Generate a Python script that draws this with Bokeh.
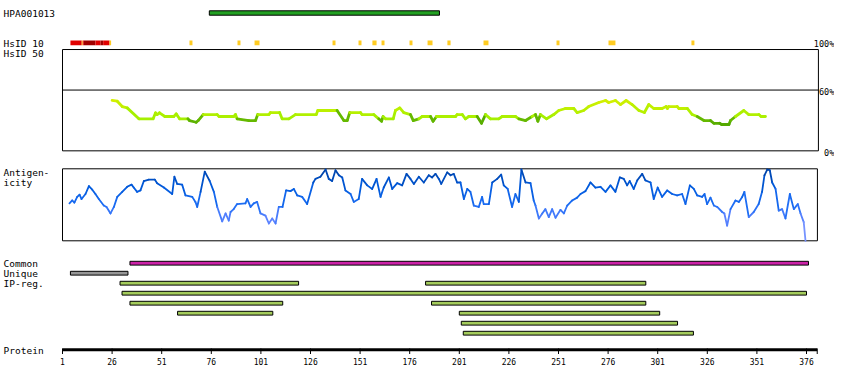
import numpy as np
from bokeh.plotting import figure
from bokeh.models import Range1d
from bokeh.core.properties import value
from bokeh.embed import file_html
from bokeh.resources import INLINE

# ---------------- data ----------------
PROTEIN_LENGTH = 381
antigen_name = "HPA001013"
antigen_start, antigen_end = 75, 191

# HsID 10 identity marks (residue start / end, colour class)
hs10_start = [5.0, 10.7, 11.2, 11.7, 17.6, 20.2, 21.5, 24.7,
              65.0, 89.2, 97.8, 137.1, 150.2, 157.2, 161.8, 175.9, 185.0,
              195.0, 213.2, 250.0, 276.2, 318.0]
hs10_end = [10.7, 11.2, 11.7, 17.6, 20.2, 21.5, 24.7, 25.5,
            66.5, 90.7, 100.3, 138.6, 151.7, 159.3, 163.3, 177.4, 187.5,
            196.6, 215.7, 251.5, 279.7, 319.5]
hs10_class = ["high", "low", "high", "top", "high", "top", "high", "low",
              "low", "low", "low", "low", "low", "low", "low", "low", "low",
              "low", "low", "low", "low", "low"]

# HsID 50 similarity (%)
sim_res = [26.0, 28.6, 31.1, 33.6, 39.5, 46.7, 47.9, 48.7, 49.9, 52.6, 57.1, 58.3,
           60.0, 64.2, 65.0, 68.4, 69.4, 71.9, 78.9, 79.9, 87.3, 88.2, 89.0, 94.9,
           98.3, 99.4, 105.0, 105.8, 110.4, 111.7, 115.1, 118.4, 128.9, 129.7, 139.4,
           142.8, 144.5, 145.8, 151.2, 152.0, 157.9, 160.4, 161.8, 162.6, 163.8, 167.7,
           168.8, 171.0, 173.0, 176.4, 177.8, 180.6, 182.3, 186.5, 187.8, 189.5, 199.1,
           199.9, 202.5, 204.1, 205.8, 210.0, 212.2, 214.2, 216.7, 220.9, 222.6, 229.3,
           231.0, 234.4, 237.7, 239.4, 240.6, 241.9, 245.0, 248.6, 251.1, 254.5, 258.7,
           260.4, 263.7, 266.2, 271.3, 274.7, 276.3, 279.7, 282.2, 285.1, 288.1, 291.5,
           294.3, 296.5, 299.0, 303.2, 305.3, 305.9, 306.6, 310.8, 311.7, 315.9, 318.4,
           320.9, 324.3, 327.6, 329.3, 332.2, 333.2, 336.9, 337.7, 340.2, 344.4, 346.9,
           352.0, 353.1, 355.3]
sim_pct = [49.7, 49.0, 43.7, 42.4, 31.6, 31.6, 37.5, 35.8, 37.5, 33.9, 33.9, 36.5,
           31.6, 31.6, 29.9, 28.2, 29.9, 35.8, 35.8, 33.9, 33.9, 35.8, 31.6, 29.9,
           29.9, 35.8, 35.8, 37.8, 37.8, 31.6, 31.6, 35.8, 35.8, 39.8, 39.8,
           29.9, 29.9, 37.8, 37.8, 35.8, 35.8, 31.6, 29.2, 33.9, 31.6, 31.6,
           39.8, 42.4, 37.8, 35.8, 29.9, 31.6, 33.9, 33.9, 29.2, 33.9, 33.9,
           35.8, 35.8, 31.6, 33.9, 33.9, 27.2, 35.8, 31.6, 31.6, 33.9, 33.9,
           31.6, 29.9, 33.9, 35.8, 29.2, 35.8, 31.6, 35.8, 39.8, 41.8, 41.8,
           37.8, 39.8, 43.7, 47.7, 49.7, 47.7, 49.7, 45.7, 49.7, 45.7, 39.8,
           37.8, 45.7, 41.8, 41.8, 43.7, 41.8, 43.7, 43.7, 41.8, 41.8, 35.8,
           33.9, 29.9, 29.9, 27.2, 27.2, 26.0, 26.0, 29.9, 33.9, 39.8, 35.8,
           35.8, 33.9, 33.9]

# Antigenicity (relative score 0..1)
ag_res = [4.5, 5.9, 7.0, 8.4, 9.6, 10.6, 12.6, 14.3, 16.0, 17.6, 19.3, 21.8, 23.2, 25.2,
          26.9, 28.6, 31.1, 33.6, 35.8, 36.9, 38.6, 40.3, 42.0, 44.5, 47.5, 48.7, 52.1,
          56.3, 57.4, 58.8, 61.3, 63.0, 66.4, 68.0, 68.9, 70.6, 72.7, 75.2, 77.3, 79.0,
          81.5, 83.2, 84.8, 85.7, 87.3, 89.0, 93.2, 94.1, 95.8, 97.4, 99.1, 100.8, 103.3,
          105.0, 106.7, 108.4, 110.0, 111.9, 113.7, 115.9, 117.6, 119.3, 121.8, 124.3,
          127.4, 128.5, 131.0, 133.6, 135.2, 136.9, 138.6, 140.3, 142.0, 143.6, 146.2,
          147.8, 150.3, 152.0, 154.6, 157.1, 159.3, 161.3, 162.9, 165.5, 167.2, 169.7,
          172.2, 174.4, 176.4, 178.1, 180.6, 183.1, 185.6, 187.3, 189.0, 190.7, 191.9,
          194.9, 196.6, 198.2, 199.9, 201.6, 203.3, 205.0, 206.6, 208.3, 210.8, 212.5,
          213.3, 215.9, 217.6, 220.1, 222.1, 223.4, 225.4, 227.6, 229.3, 231.0, 232.3,
          234.4, 236.9, 238.5, 239.4, 241.1, 242.8, 244.4, 246.1, 247.8, 249.5, 252.0,
          253.7, 255.4, 257.9, 260.4, 262.1, 264.6, 267.1, 269.6, 272.2, 274.7, 277.2,
          279.7, 281.9, 283.9, 285.6, 286.9, 288.9, 290.7, 293.2, 294.8, 297.4, 299.0,
          301.0, 303.2, 305.8, 308.3, 310.8, 313.3, 315.0, 317.2, 319.2, 320.9, 323.4,
          324.6, 325.9, 327.6, 329.3, 331.0, 333.5, 334.6, 336.0, 337.7, 340.2, 341.9,
          343.6, 344.7, 346.9, 349.4, 351.9, 353.6, 354.8, 356.2, 357.5, 358.7, 360.4,
          362.0, 363.7, 365.4, 367.6, 369.6, 371.6, 373.0, 374.6, 375.5]
ag_val = [0.52, 0.56, 0.53, 0.61, 0.64, 0.58, 0.65, 0.76, 0.71, 0.65, 0.58, 0.49, 0.47, 0.38,
          0.47, 0.61, 0.68, 0.75, 0.78, 0.74, 0.68, 0.70, 0.83, 0.85, 0.85, 0.80, 0.74,
          0.65, 0.89, 0.79, 0.78, 0.63, 0.61, 0.54, 0.47, 0.68, 0.96, 0.83, 0.68, 0.47,
          0.27, 0.38, 0.28, 0.40, 0.44, 0.51, 0.52, 0.58, 0.47, 0.52, 0.54, 0.38, 0.35,
          0.24, 0.31, 0.24, 0.47, 0.47, 0.70, 0.69, 0.72, 0.63, 0.61, 0.51,
          0.81, 0.86, 0.89, 0.99, 0.86, 0.83, 0.98, 0.91, 0.88, 0.70, 0.65,
          0.54, 0.58, 0.86, 0.77, 0.72, 0.86, 0.61, 0.74, 0.88, 0.72, 0.80,
          0.77, 0.93, 0.86, 0.79, 0.89, 0.81, 0.91, 0.88, 0.93, 0.86, 0.79,
          0.95, 0.91, 0.93, 0.81, 0.81, 0.58, 0.72, 0.68, 0.49, 0.47, 0.61,
          0.51, 0.51, 0.81, 0.86, 0.92, 0.77, 0.72, 0.47, 0.65, 0.54, 0.99,
          0.81, 0.80, 0.56, 0.49, 0.31, 0.38, 0.44, 0.33, 0.44, 0.32, 0.43,
          0.38, 0.49, 0.56, 0.60, 0.65, 0.69, 0.81, 0.74, 0.75, 0.68, 0.77,
          0.68, 0.88, 0.86, 0.77, 0.83, 0.72, 0.84, 0.93, 0.84, 0.81, 0.58,
          0.74, 0.61, 0.70, 0.65, 0.63, 0.65, 0.51, 0.77, 0.72, 0.63, 0.61,
          0.65, 0.51, 0.60, 0.49, 0.47, 0.40, 0.38, 0.21, 0.44, 0.56, 0.54,
          0.61, 0.68, 0.33, 0.40, 0.51, 0.68, 0.91, 0.99, 0.98, 0.81, 0.72,
          0.42, 0.44, 0.31, 0.65, 0.44, 0.51, 0.38, 0.26, 0.00]

# region rows
common_start, common_end = [35], [377]
unique_start, unique_end = [5], [34]
ip_row = [0, 0, 1, 2, 2, 3, 3, 4, 5]
ip_start = [30, 184, 31, 35, 187, 59, 201, 202, 203]
ip_end = [120, 295, 376, 112, 295, 107, 302, 311, 319]

tick_values = [1, 26, 51, 76, 101, 126, 151, 176, 201, 226, 251, 276, 301, 326, 351, 376]
sim_ticks = [60, 0]
sim_tick_labels = ["60%", "0%"]

row_labels = ["HPA001013", "HsID 10", "HsID 50", "Antigen-", "icity",
              "Common", "Unique", "IP-reg.", "Protein"]

# ---------------- layout / style ----------------
FONT = value("DejaVu Sans Mono")
LEFT_X = -28.7          # residue coordinate of the left text column
RIGHT_X = 390.0         # right edge of the drawing
label_y = [13.0, 42.5, 52.5, 172.3, 182.0, 263.2, 273.2, 283.2, 349.5]

p = figure(width=834, height=374,
           x_range=Range1d(-30.25, 390.11), y_range=Range1d(374, 0),
           x_axis_type=None, y_axis_type=None,
           output_backend="svg", toolbar_location=None, min_border=0)
p.outline_line_color = None
p.background_fill_color = "white"
p.border_fill_color = "white"
p.extra_y_ranges = {"sim": Range1d(-220.8, 148.4), "ag": Range1d(-1.857, 3.3375)}

# left labels
p.text(x=[LEFT_X] * len(row_labels), y=label_y, text=row_labels,
       text_font=FONT, text_font_size="9.5px", text_color="black",
       text_baseline="middle", text_align="left")

# antigen bar
p.quad(left=[antigen_start], right=[antigen_end], top=[10.3], bottom=[14.7],
       fill_color="#22a022", line_color="black", line_width=1)

# HsID 10 marks
cmap10 = {"high": "#e00000", "top": "#a00000", "low": "#ffcc22"}
p.quad(left=hs10_start, right=hs10_end, top=40.0, bottom=44.7,
       fill_color=[cmap10[c] for c in hs10_class], line_color=None)

# HsID 50 box
p.quad(left=[1], right=[PROTEIN_LENGTH + 1], bottom=[0], top=[100], y_range_name="sim",
       fill_color=None, line_color="black", line_width=1)
p.segment(x0=[1], x1=[PROTEIN_LENGTH + 1], y0=[60], y1=[60], y_range_name="sim",
          line_color="black", line_width=1)
p.text(x=[RIGHT_X] * 2, y=sim_ticks, text=sim_tick_labels, y_range_name="sim",
       text_font=FONT, text_font_size="8.5px", text_baseline="middle", y_offset=2,
       text_align="right", text_color="black")
p.text(x=[RIGHT_X], y=[100], text=["100%"], y_range_name="sim",
       text_font=FONT, text_font_size="8.5px", text_baseline="middle", y_offset=-6,
       text_align="right", text_color="black")

sr = np.array(sim_res)
sp = np.array(sim_pct)
smin = np.minimum(sp[:-1], sp[1:])


def sim_color(v):
    if v < 30.5:
        t = np.clip((v - 25.0) / 5.5, 0, 1)
        c0, c1 = np.array([80, 165, 0]), np.array([104, 188, 0])
    else:
        t = np.clip((v - 30.5) / 19.0, 0, 1)
        c0, c1 = np.array([164, 240, 0]), np.array([214, 240, 0])
    c = (c0 + (c1 - c0) * t).astype(int)
    return "#%02x%02x%02x" % tuple(c)


p.segment(x0=sr[:-1], x1=sr[1:], y0=sp[:-1], y1=sp[1:], y_range_name="sim",
          line_color=[sim_color(v) for v in smin], line_width=2.8, line_cap="round")

# Antigenicity box & line
p.quad(left=[1], right=[PROTEIN_LENGTH + 0.5], bottom=[0], top=[1], y_range_name="ag",
       fill_color=None, line_color="black", line_width=1)

ar = np.array(ag_res)
av = np.array(ag_val)
amean = (av[:-1] + av[1:]) / 2
stops = np.array([0.0, 0.3, 0.5, 0.75, 1.0])
rgb = np.array([[140, 160, 255], [90, 130, 255], [30, 110, 245], [0, 90, 220], [0, 64, 160]])


def ag_color(v):
    c = [int(np.interp(v, stops, rgb[:, k])) for k in range(3)]
    return "#%02x%02x%02x" % tuple(c)


p.segment(x0=ar[:-1], x1=ar[1:], y0=av[:-1], y1=av[1:], y_range_name="ag",
          line_color=[ag_color(v) for v in amean], line_width=1.8, line_cap="round")

# Common / Unique / IP-reg bars
p.quad(left=common_start, right=common_end, top=260.8, bottom=264.6,
       fill_color="#cc22a8", line_color="black", line_width=1)
p.quad(left=unique_start, right=unique_end, top=270.8, bottom=274.6,
       fill_color="#969696", line_color="black", line_width=1)
ip_top = [280.8 + 10 * r for r in ip_row]
ip_bot = [284.6 + 10 * r for r in ip_row]
p.quad(left=ip_start, right=ip_end, top=ip_top, bottom=ip_bot,
       fill_color="#a4cc5c", line_color="black", line_width=1)

# Protein axis
p.quad(left=[1], right=[PROTEIN_LENGTH + 0.4], top=[347.8], bottom=[350.8],
       fill_color="black", line_color=None)
p.segment(x0=tick_values + [PROTEIN_LENGTH + 0.4], x1=tick_values + [PROTEIN_LENGTH + 0.4],
          y0=348, y1=353.5, line_color="black", line_width=1)
p.text(x=tick_values, y=[360.5] * len(tick_values), text=[str(t) for t in tick_values],
       text_font=FONT, text_font_size="8px", text_align="center",
       text_baseline="middle", text_color="black")

open("out.html", "w").write(file_html(p, INLINE))
